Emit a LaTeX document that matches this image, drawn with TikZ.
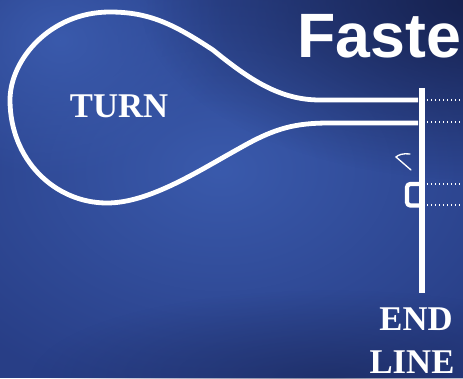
\documentclass[tikz,border=0pt]{standalone}
\usepackage{fontspec}
\newfontfamily\headfont{Liberation Sans}
\newfontfamily\labelfont{Liberation Serif}
\usetikzlibrary{fadings}

\definecolor{bgblue}{RGB}{40,62,134}
\definecolor{bglight}{RGB}{58,90,172}
\definecolor{bgdark}{RGB}{22,33,78}

\tikzfading[name=soft, inner color=transparent!0, outer color=transparent!100]

\tikzset{
  chalk/.style={draw=white, line width=3.6pt, line join=round},
  guide/.style={draw=white, line width=1pt, dotted},
  sign/.style={text=white, inner sep=0pt,
    font=\labelfont\bfseries\fontsize{26}{26}\selectfont},
  cloud/.style={fill=#1, path fading=soft},
}

\begin{document}
\begin{tikzpicture}[x=0.75pt, y=-0.75pt]
        \useasboundingbox (0,0) rectangle (463,378);
        \clip (0,0) rectangle (463,378);

        % fond
        \fill[bgblue] (0,0) rectangle (463,378);
        \path[cloud=bglight] (220,170) ellipse (340 and 240);
        \path[cloud=bglight] (60,40) ellipse (170 and 140);
        \path[cloud=bgdark] (480,0) ellipse (340 and 180);
        \path[cloud=bgdark, opacity=.5] (330,380) ellipse (300 and 90);

        \node[anchor=base west, inner sep=0pt, text=white,
          font=\headfont\bfseries\fontsize{47}{47}\selectfont] (title) at (297,58) {Faste};

        % smycka
        \coordinate (armA) at (418,100);
        \coordinate (armB) at (418,123);
        \draw[chalk] (armA) -- (320,100)
          .. controls (280,100) and (250,80) .. (213,50)
          .. controls (175,25) and (150,12) .. (110,12)
          .. controls (50,12) and (10,60) .. (10,100)
          .. controls (10,160) and (55,203) .. (107,203)
          .. controls (150,203) and (200,170) .. (240,148)
          .. controls (275,128) and (295,123) .. (330,123)
          -- (armB);
        \node[sign, anchor=base] (turn) at (119,117) {TURN};

        % koncova cara
        \coordinate (lineTop) at (422,88);
        \coordinate (lineBot) at (422,293);
        \draw[chalk, line width=3.8pt] (lineTop) -- (lineBot);
        \node[sign, anchor=base] (endtxt) at (416,330) {END};
        \node[sign, anchor=base] (linetxt) at (412,373) {LINE};

        % tecky
        \foreach \y in {100,122,184,205}
          \draw[guide] (427,\y) -- (463,\y);

        % znacky
        \draw[chalk, line width=3.2pt, rounded corners=2.5pt]
          (419,184) -- (407,184) -- (407,205.5) -- (419,205.5);
        \draw[white, line width=1pt, line cap=round]
          (410,154) .. controls (403,153) and (398,155) .. (396,157) -- (411,170);
    \end{tikzpicture}
\end{document}
